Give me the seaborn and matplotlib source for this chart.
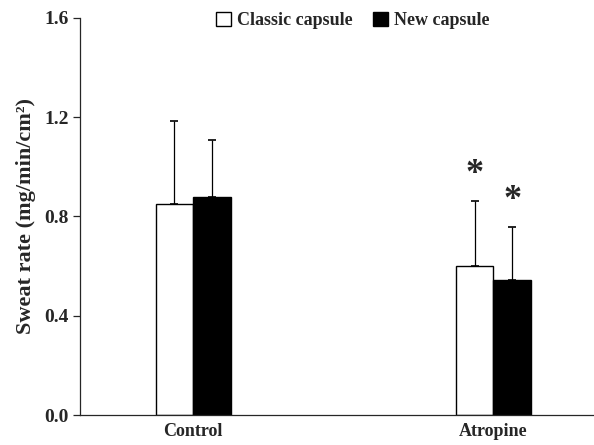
import pandas as pd
import seaborn as sns
import matplotlib.pyplot as plt
from matplotlib.patches import Patch

conditions = ["Control", "Atropine"]
capsules = ["Classic capsule", "New capsule"]
classic_mean = [0.851, 0.602]
new_mean = [0.878, 0.543]
classic_err = [0.334, 0.262]
new_err = [0.231, 0.216]
significant = {"Classic capsule": [False, True], "New capsule": [False, True]}
yticks = [0.0, 0.4, 0.8, 1.2, 1.6]

df = pd.DataFrame({
    "condition": conditions * 2,
    "capsule": [capsules[0]] * 2 + [capsules[1]] * 2,
    "rate": classic_mean + new_mean,
    "err": classic_err + new_err,
})

sns.set_style("ticks")
plt.rcParams["font.family"] = ["Liberation Serif", "DejaVu Serif"]
plt.rcParams["font.weight"] = "bold"

fig = plt.figure(figsize=(5.94, 4.45), dpi=100)
ax = fig.add_axes([0.1347, 0.0674, 0.8653, 0.8922])

sns.barplot(data=df, x="condition", y="rate", hue="capsule",
            order=conditions, hue_order=capsules,
            palette=["white", "black"], edgecolor="black", linewidth=1.0,
            width=0.25, errorbar=None, legend=False, ax=ax)

# upper-only error bars and significance stars
for cont, cap in zip(ax.containers, capsules):
    sub = df[df["capsule"] == cap].set_index("condition").loc[conditions]
    for bar, m, e, sig in zip(cont, sub["rate"], sub["err"], significant[cap]):
        xc = bar.get_x() + bar.get_width() / 2
        ax.errorbar(xc, m, yerr=[[0], [e]], fmt="none", ecolor="black",
                    elinewidth=0.9, capsize=2.6, capthick=1.2)
        if sig:
            ax.text(xc, m + e + 0.105, "*", ha="center", va="center",
                    fontsize=26, fontweight="bold")

ax.set_xlim(-0.377, 1.335)
ax.set_ylim(0, 1.6)
ax.set_yticks(yticks)
ax.set_yticklabels([f"{t:.1f}" for t in yticks], fontsize=14, fontweight="bold")
ax.tick_params(axis="y", direction="out", length=5, width=0.9, pad=3)
ax.tick_params(axis="x", length=0, pad=6, labelsize=13)
for lbl in ax.get_xticklabels():
    lbl.set_fontweight("bold")
ax.set_xlabel("")
ax.set_ylabel("Sweat rate (mg/min/cm²)", fontsize=16, fontweight="bold", labelpad=6)
sns.despine(ax=ax)
ax.spines["left"].set_linewidth(0.9)
ax.spines["bottom"].set_linewidth(0.9)

handles = [Patch(facecolor="white", edgecolor="black", linewidth=1.0),
           Patch(facecolor="black", edgecolor="black")]
ax.legend(handles, capsules, ncol=2, loc="center", bbox_to_anchor=(0.531, 0.993),
          frameon=False, handlelength=0.83, handleheight=0.83, handletextpad=0.35,
          columnspacing=1.1, borderpad=0, prop={"weight": "bold", "size": 13})

fig.savefig("out.png", dpi=100)
